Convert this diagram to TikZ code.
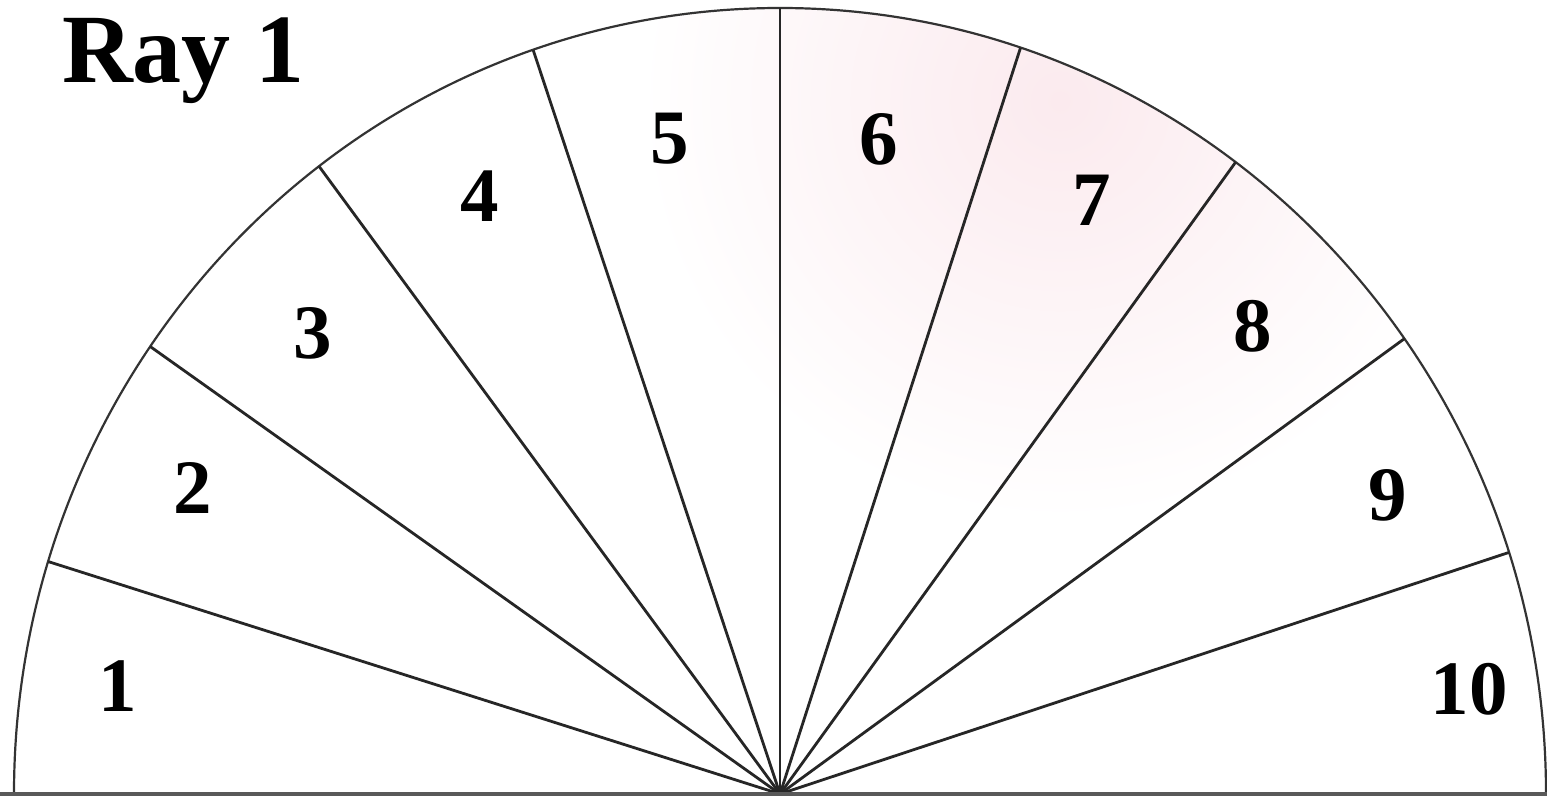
\documentclass[tikz,border=0pt]{standalone}
\usepackage{fontspec}
\setmainfont{Liberation Serif}
\usetikzlibrary{calc}
\definecolor{blush}{RGB}{251,234,238}
\begin{document}
\begin{tikzpicture}[x=1pt,y=1pt,
  rayline/.style={line width=2.8pt, draw=black!85},
  rim/.style={line width=2.2pt, draw=black!80},
  base/.style={line width=3.5pt, draw=black!65},
  num/.style={font=\fontsize{77}{80}\bfseries\selectfont, inner sep=0pt, anchor=center},
  title/.style={font=\fontsize{98}{100}\bfseries\selectfont, inner sep=0pt, anchor=base west},
]
\useasboundingbox (0,0) rectangle (1547,801);
\fill[white] (0,0) rectangle (1547,801);
\coordinate (O) at (780,7);
% faint pink tint near the top right sectors
\begin{scope}
  \clip ($(O)+(180:766pt and 786pt)$) arc[start angle=180, end angle=0, x radius=766, y radius=786] -- cycle;
  \shade[inner color=blush, outer color=white] (1060,700) circle[radius=420];
\end{scope}
% rim points
\coordinate (P0) at ($(O)+(180:766pt and 786pt)$);
\foreach \i/\a in {1/162.8,2/145.3,3/127,4/108.8,5/90,6/71.7,7/53.5,8/35.4,9/17.9} {
  \coordinate (P\i) at ($(O)+(\a:766pt and 786pt)$);
}
\draw[rim] (P0) arc[start angle=180, end angle=0, x radius=766, y radius=786];
\foreach \i in {1,...,9} {
  \draw[rayline] (O) -- (P\i);
}
\coordinate (BL) at (0,7);
\coordinate (BR) at (1547,7);
\draw[base] (BL) -- (BR);
% labels
\node[title] (t) at (62,718) {Ray 1};
\node[num] (n1) at (118,115) {1};
\node[num] (n2) at (193,313) {2};
\node[num] (n3) at (313,468) {3};
\node[num] (n4) at (480,605) {4};
\node[num] (n5) at (670,662) {5};
\node[num] (n6) at (879,662) {6};
\node[num] (n7) at (1092,601) {7};
\node[num] (n8) at (1253,475) {8};
\node[num] (n9) at (1388,306) {9};
\node[num] (n10) at (1469,112) {10};
\end{tikzpicture}
\end{document}
